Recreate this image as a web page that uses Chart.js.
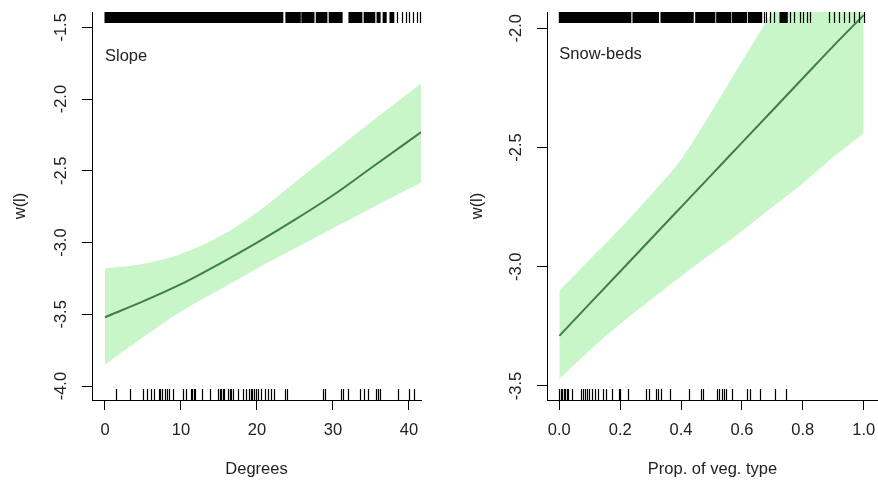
<!DOCTYPE html>
<html><head><meta charset="utf-8">
<script src="https://cdn.jsdelivr.net/npm/chart.js@4.4.1/dist/chart.umd.min.js"></script>
<style>
html,body{margin:0;padding:0;background:#fff;width:878px;height:482px;overflow:hidden}
#wrap{position:relative;width:878px;height:482px;background:#fff}
canvas{position:absolute;top:0}
#c1{left:0}
#c2{left:439px}
</style></head><body>
<div id="wrap"><canvas id="c1" width="439" height="482"></canvas><canvas id="c2" width="439" height="482"></canvas></div>
<script>
// ---------- Panel 1: Slope ----------
const slopeX     = [0, 5, 10, 15, 20, 25, 30, 35, 41.6];
const slopeFit   = [-3.52, -3.41, -3.29, -3.15, -3.00, -2.84, -2.67, -2.48, -2.23];
const slopeUpper = [-3.18, -3.15, -3.08, -2.96, -2.79, -2.58, -2.37, -2.16, -1.89];
const slopeLower = [-3.85, -3.66, -3.48, -3.33, -3.18, -3.04, -2.90, -2.76, -2.58];
const slopeXTicks = [0, 10, 20, 30, 40];
const slopeYTicks = [-4.0, -3.5, -3.0, -2.5, -2.0, -1.5];
const slopeRugTopSpans = [[0,23.4],[23.8,25.7],[25.9,27.5],[27.8,29.2],[29.5,31.2],[32.1,33.8],[34.1,35.5],[35.8,36.2],[36.6,37.0],[37.5,38.0]];
const slopeRugTop = [38.4, 39.1, 39.6, 40.0, 40.5, 41.1, 41.4];
const slopeRugBottom = [1.5, 3.3, 5.0, 5.5, 6.0, 6.5, 7.15, 7.3, 7.45, 7.9, 8.1, 8.46, 9.0, 10.2, 10.6, 11.3, 11.5, 11.7, 11.9, 12.8, 13.8, 14.9, 15.1, 15.3, 15.5, 15.7, 16.2, 16.4, 16.6, 16.9, 17.5, 18.2, 18.55, 18.9, 19.2, 19.4, 19.6, 19.9, 20.1, 20.5, 21.05, 21.5, 21.8, 22.2, 23.7, 23.9, 28.7, 29.0, 31.0, 31.3, 32.0, 33.5, 34.1, 34.6, 35.6, 35.9, 36.2, 38.6, 40.0, 40.7];

// ---------- Panel 2: Snow-beds ----------
const snowX     = [0, 0.1, 0.2, 0.3, 0.4, 0.5, 0.6, 0.7, 0.8, 0.9, 1.0];
const snowFit   = [-3.29, -3.155, -3.02, -2.885, -2.75, -2.615, -2.48, -2.345, -2.21, -2.075, -1.945];
const snowUpper = [-3.10, -2.97, -2.84, -2.70, -2.55, -2.35, -2.14, -1.93, -1.72, -1.51, -1.30];
const snowLower = [-3.47, -3.35, -3.24, -3.14, -3.04, -2.945, -2.85, -2.75, -2.65, -2.54, -2.44];
const snowXTicks = [0, 0.2, 0.4, 0.6, 0.8, 1.0];
const snowYTicks = [-3.5, -3.0, -2.5, -2.0];
const snowRugTopSpans = [[0,0.235],[0.242,0.326],[0.334,0.44],[0.448,0.511],[0.517,0.563],[0.568,0.615],[0.621,0.665],[0.725,0.749]];
const snowRugTop = [0.672, 0.68, 0.692, 0.705, 0.757, 0.771, 0.79, 0.80, 0.814, 0.823, 0.885, 0.901, 0.918, 0.934, 0.951, 0.968, 0.986, 1.0];
const snowRugBottom = [0.0, 0.005, 0.01, 0.015, 0.02, 0.025, 0.03, 0.042, 0.071, 0.078, 0.085, 0.09, 0.098, 0.107, 0.116, 0.126, 0.145, 0.154, 0.173, 0.197, 0.2, 0.227, 0.285, 0.296, 0.318, 0.325, 0.333, 0.364, 0.427, 0.465, 0.473, 0.517, 0.526, 0.533, 0.541, 0.548, 0.566, 0.617, 0.626, 0.659, 0.71, 0.746];

const TXT = '#222222';
const LINE = '#3f7d4b';
const BAND = 'rgb(200,246,200)';
const FAMILY = "'Liberation Sans', Arial, sans-serif";
const FONT = {family: FAMILY, size: 16.5};

const rugPlugin = {
  id: 'rugs',
  afterDatasetsDraw(chart, args, o) {
    const {ctx, chartArea: a, scales: {x}} = chart;
    const L = 11;
    ctx.save();
    ctx.fillStyle = '#000';
    ctx.strokeStyle = '#000';
    ctx.lineWidth = 1.2;
    for (const [s, e] of o.topSpans) {
      const x0 = x.getPixelForValue(s), x1 = x.getPixelForValue(e);
      ctx.fillRect(x0 - 0.5, a.top, x1 - x0 + 1, L);
    }
    ctx.beginPath();
    for (const v of o.topTicks) {
      const px = Math.round(x.getPixelForValue(v)) + 0.5;
      ctx.moveTo(px, a.top); ctx.lineTo(px, a.top + L);
    }
    for (const v of o.bottomTicks) {
      const px = Math.round(x.getPixelForValue(v)) + 0.5;
      ctx.moveTo(px, a.bottom); ctx.lineTo(px, a.bottom - L);
    }
    ctx.stroke();
    ctx.fillStyle = TXT;
    ctx.font = FONT.size + 'px ' + FAMILY;
    ctx.textAlign = 'left';
    ctx.textBaseline = 'alphabetic';
    ctx.fillText(o.label, x.getPixelForValue(0), a.top + o.labelDY);
    ctx.restore();
  }
};

function makeChart(id, c) {
  const pts = arr => c.x.map((v, i) => ({x: v, y: arr[i]}));
  return new Chart(document.getElementById(id), {
    type: 'line',
    data: {datasets: [
      {label: 'fit', data: pts(c.fit), borderColor: LINE, borderWidth: 2, pointRadius: 0, fill: false, order: 0, cubicInterpolationMode: 'monotone'},
      {label: 'upper', data: pts(c.upper), borderColor: 'rgba(0,0,0,0)', borderWidth: 0, pointRadius: 0, backgroundColor: BAND, fill: '+1', order: 1, cubicInterpolationMode: 'monotone'},
      {label: 'lower', data: pts(c.lower), borderColor: 'rgba(0,0,0,0)', borderWidth: 0, pointRadius: 0, fill: false, order: 2, cubicInterpolationMode: 'monotone'}
    ]},
    options: {
      responsive: false, animation: false, devicePixelRatio: 1,
      layout: {padding: {top: 12, right: c.padRight, bottom: 0, left: 0}},
      plugins: {
        legend: {display: false}, tooltip: {enabled: false},
        rugs: {topSpans: c.rugTopSpans, topTicks: c.rugTop, bottomTicks: c.rugBottom, label: c.label, labelDY: c.labelDY}
      },
      scales: {
        x: {
          type: 'linear', position: 'bottom', min: c.xMin, max: c.xMax,
          afterBuildTicks: s => { s.ticks = c.xTicks.map(v => ({value: v})); },
          afterFit: s => { s.height = 82; s.paddingLeft = 0; s.paddingRight = 0; },
          ticks: {font: FONT, color: TXT, padding: 10.5, minRotation: 0, maxRotation: 0, autoSkip: false,
                  callback: v => v.toFixed(c.xDec)},
          grid: {display: true, drawOnChartArea: false, drawTicks: true, tickLength: 10, color: '#000', lineWidth: 1},
          border: {display: true, color: '#000', width: 1},
          title: {display: true, text: c.xTitle, font: FONT, color: TXT, padding: {top: 0, bottom: 3}}
        },
        y: {
          type: 'linear', position: 'left', min: c.yMin, max: c.yMax,
          afterBuildTicks: s => { s.ticks = c.yTicks.map(v => ({value: v})); },
          afterFit: s => { s.width = c.yWidth; s.paddingTop = 0; s.paddingBottom = 0; },
          ticks: {font: FONT, color: TXT, padding: 6, minRotation: 90, maxRotation: 90, crossAlign: 'center', autoSkip: false,
                  callback: v => v.toFixed(1)},
          grid: {display: true, drawOnChartArea: false, drawTicks: true, tickLength: 10, color: '#000', lineWidth: 1},
          border: {display: true, color: '#000', width: 1},
          title: {display: true, text: 'w(l)', font: FONT, color: TXT, padding: {top: c.yTitlePad, bottom: 0}}
        }
      }
    },
    plugins: [rugPlugin]
  });
}

makeChart('c1', {
  x: slopeX, fit: slopeFit, upper: slopeUpper, lower: slopeLower,
  xTicks: slopeXTicks, yTicks: slopeYTicks, xDec: 0,
  xMin: -1.71, xMax: 41.58, yMin: -4.097, yMax: -1.393,
  rugTopSpans: slopeRugTopSpans, rugTop: slopeRugTop, rugBottom: slopeRugBottom,
  label: 'Slope', labelDY: 49, xTitle: 'Degrees',
  yWidth: 92, padRight: 18, yTitlePad: 11
});

makeChart('c2', {
  x: snowX, fit: snowFit, upper: snowUpper, lower: snowLower,
  xTicks: snowXTicks, yTicks: snowYTicks, xDec: 1,
  xMin: -0.0404, xMax: 1.047, yMin: -3.559, yMax: -1.932,
  rugTopSpans: snowRugTopSpans, rugTop: snowRugTop, rugBottom: snowRugBottom,
  label: 'Snow-beds', labelDY: 47, xTitle: 'Prop. of veg. type',
  yWidth: 108, padRight: 0, yTitlePad: 29
});
</script>
</body></html>
